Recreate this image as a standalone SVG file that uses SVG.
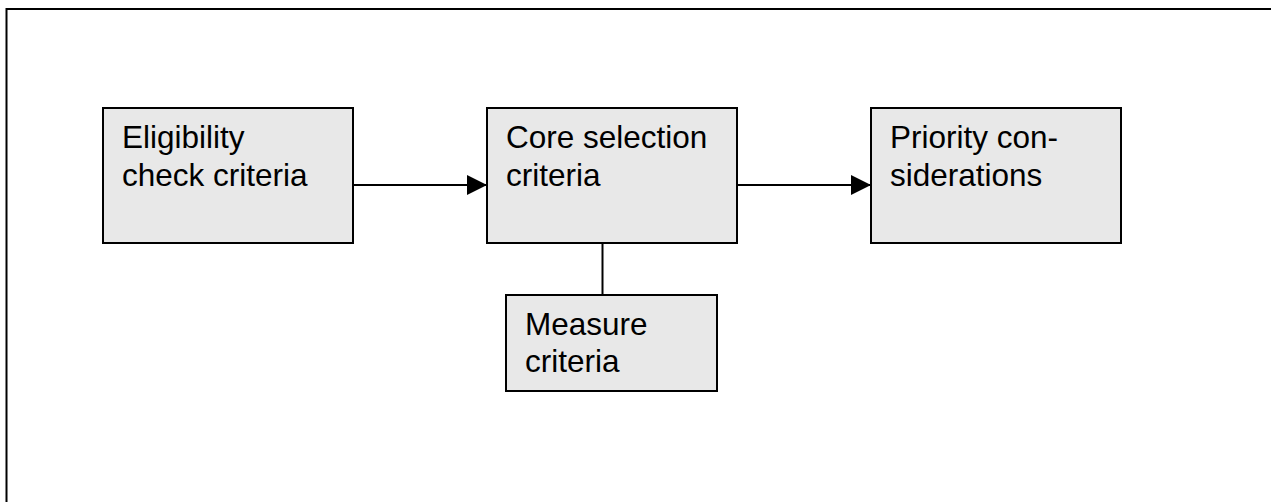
<svg xmlns="http://www.w3.org/2000/svg" width="1271" height="502" viewBox="0 0 1271 502">
<style>
.frame{fill:none;stroke:#000;stroke-width:2}
.box{fill:#e8e8e8;stroke:#000;stroke-width:2}
.lbl{font-family:"Liberation Sans",Arial,sans-serif;font-size:31.5px;fill:#000}
.conn{stroke:#000;stroke-width:2;fill:none}
</style>
<defs>
<marker id="arr" markerWidth="20" markerHeight="20" refX="20" refY="10" orient="auto" markerUnits="userSpaceOnUse">
<path d="M0,0 L20,10 L0,20 Z" fill="#000"/>
</marker>
</defs>
<rect class="frame" x="6.5" y="9" width="1300" height="520"/>
<g id="connectors">
<line class="conn" x1="354" y1="185" x2="487" y2="185" marker-end="url(#arr)"/>
<line class="conn" x1="738" y1="185" x2="871" y2="185" marker-end="url(#arr)"/>
<line class="conn" x1="602.5" y1="243" x2="602.5" y2="295"/>
</g>
<g id="eligibility">
<rect class="box" x="103" y="108" width="250" height="135"/>
<text class="lbl" x="122" y="148">Eligibility</text>
<text class="lbl" x="122" y="186">check criteria</text>
</g>
<g id="core">
<rect class="box" x="487" y="108" width="250" height="135"/>
<text class="lbl" x="506" y="148">Core selection</text>
<text class="lbl" x="506" y="186">criteria</text>
</g>
<g id="priority">
<rect class="box" x="871" y="108" width="250" height="135"/>
<text class="lbl" x="890" y="148">Priority con-</text>
<text class="lbl" x="890" y="186">siderations</text>
</g>
<g id="measure">
<rect class="box" x="506" y="295" width="211" height="96"/>
<text class="lbl" x="525" y="335">Measure</text>
<text class="lbl" x="525" y="372">criteria</text>
</g>
</svg>
